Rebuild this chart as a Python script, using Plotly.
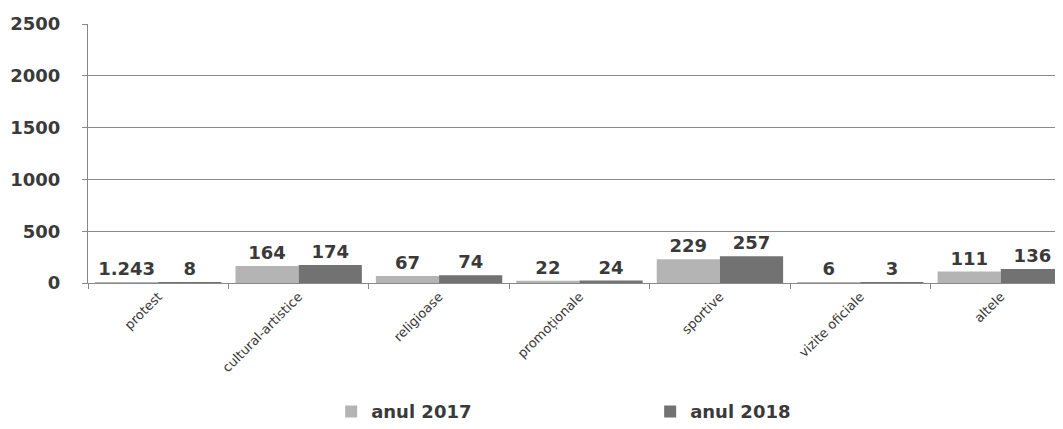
import plotly.graph_objects as go

categories = ["protest", "cultural-artistice", "religioase", "promoționale",
              "sportive", "vizite oficiale", "altele"]
values_2017 = [1.243, 164, 67, 22, 229, 6, 111]
values_2018 = [8, 174, 74, 24, 257, 3, 136]
labels_2017 = ["1.243", "164", "67", "22", "229", "6", "111"]
labels_2018 = ["8", "174", "74", "24", "257", "3", "136"]
y_ticks = [0, 500, 1000, 1500, 2000, 2500]

FONT = "DejaVu Sans"
TXT = "#3a3a3a"

fig = go.Figure()
fig.add_trace(go.Bar(
    x=categories, y=values_2017, name="anul 2017",
    marker=dict(color="#b4b4b4", line=dict(width=0)),
    text=labels_2017, textposition="outside", cliponaxis=False,
    textfont=dict(family=FONT, size=18, color=TXT, weight="bold"),
))
fig.add_trace(go.Bar(
    x=categories, y=values_2018, name="anul 2018",
    marker=dict(color="#727272", line=dict(width=0)),
    text=labels_2018, textposition="outside", cliponaxis=False,
    textfont=dict(family=FONT, size=18, color=TXT, weight="bold"),
))

fig.update_layout(
    width=1063, height=429,
    margin=dict(l=80, r=0, t=16, b=154, pad=0, autoexpand=False),
    paper_bgcolor="white", plot_bgcolor="white",
    barmode="group", bargap=0.1, bargroupgap=0,
    font=dict(family=FONT, color=TXT),
    showlegend=True,
    legend=dict(
        orientation="h", xref="container", yref="container",
        x=0.304, xanchor="left", y=0.059, yanchor="middle",
        font=dict(family=FONT, size=18, color=TXT, weight="bold"),
        entrywidth=274, itemwidth=30, bgcolor="rgba(0,0,0,0)",
    ),
)
fig.update_xaxes(
    type="category", range=[-0.5, 6.5], automargin=False,
    tickson="boundaries", ticks="outside", ticklen=5, tickcolor="#888",
    showline=True, linecolor="#888", linewidth=1,
    showgrid=False, tickangle=-45,
    tickfont=dict(family=FONT, size=13, color=TXT),
)
fig.update_yaxes(
    range=[0, 2500], tickvals=y_ticks, automargin=False,
    ticks="outside", ticklen=5, tickcolor="#888",
    showline=True, linecolor="#888", linewidth=1,
    showgrid=True, gridcolor="#8a8a8a", gridwidth=1,
    zeroline=False, ticklabelstandoff=18,
    tickfont=dict(family=FONT, size=18, color=TXT, weight="bold"),
)

fig.write_html("out.html")
